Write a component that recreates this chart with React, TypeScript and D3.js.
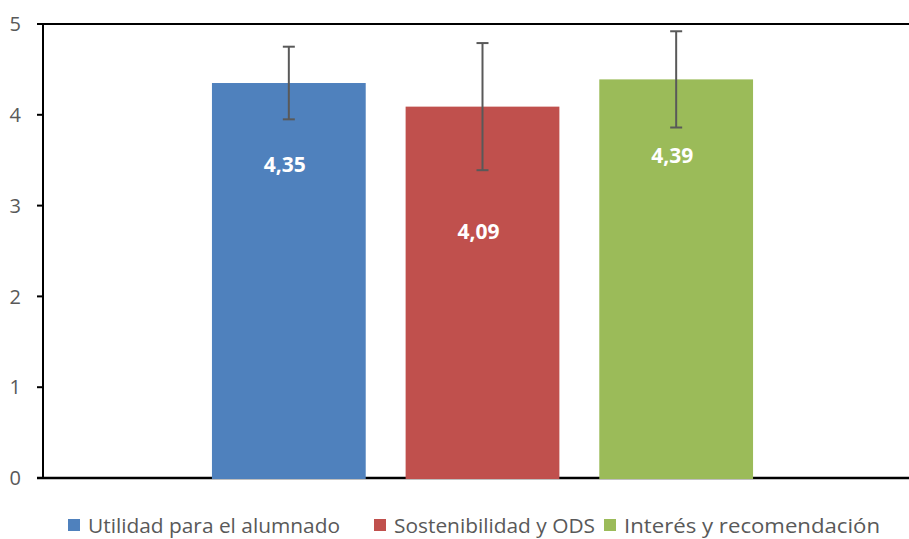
import React, { useEffect, useRef } from 'react';
import * as d3 from 'd3';

// series (one bar each)
const seriesNames = ['Utilidad para el alumnado', 'Sostenibilidad y ODS', 'Interés y recomendación'];
const seriesValues = [4.35, 4.09, 4.39];
const seriesErrors = [0.40, 0.70, 0.53];
const seriesColors = ['#4f81bd', '#c0504d', '#9bbb59'];
// where the value labels sit inside each bar (in axis units)
const labelAt = [3.45, 2.71, 3.55];
const yTicks = [0, 1, 2, 3, 4, 5];

const W = 909;
const H = 539;

const App: React.FC = () => {
  const svgRef = useRef<SVGSVGElement>(null);

  useEffect(() => {
    if (!svgRef.current) return;
    const svg = d3.select(svgRef.current);
    svg.selectAll('*').remove();

    const left = 43;
    const right = 909;
    const y = d3.scaleLinear().domain([0, 5]).range([478, 24]);
    const x = d3.scaleBand<string>()
      .domain(seriesNames)
      .range([192, 773])
      .paddingInner(0.206)
      .paddingOuter(0.103);

    const g = svg.append('g');

    // top border line
    g.append('line')
      .attr('x1', 37).attr('x2', right)
      .attr('y1', y(5)).attr('y2', y(5))
      .attr('stroke', '#000').attr('stroke-width', 2);

    // y axis
    g.append('line')
      .attr('x1', left).attr('x2', left)
      .attr('y1', y(5)).attr('y2', y(0))
      .attr('stroke', '#000').attr('stroke-width', 2);

    yTicks.forEach(t => {
      g.append('line')
        .attr('x1', 37).attr('x2', left)
        .attr('y1', y(t)).attr('y2', y(t))
        .attr('stroke', '#000').attr('stroke-width', 2);
      g.append('text')
        .attr('x', 21)
        .attr('y', y(t))
        .attr('dy', '0.36em')
        .attr('text-anchor', 'end')
        .attr('fill', '#595959')
        .attr('font-family', 'Open Sans, sans-serif')
        .attr('font-size', 20)
        .text(String(t));
    });

    // bottom axis line, bars overlap it
    g.append('line')
      .attr('x1', 37).attr('x2', right)
      .attr('y1', y(0)).attr('y2', y(0))
      .attr('stroke', '#000').attr('stroke-width', 2.5);

    // bars
    g.selectAll('rect.bar')
      .data(seriesNames)
      .enter()
      .append('rect')
      .attr('class', 'bar')
      .attr('x', d => x(d)!)
      .attr('width', x.bandwidth())
      .attr('y', (d, i) => y(seriesValues[i]))
      .attr('height', (d, i) => y(0) - y(seriesValues[i]) + 1)
      .attr('fill', (d, i) => seriesColors[i]);

    // error bars
    seriesNames.forEach((d, i) => {
      const cx = x(d)! + x.bandwidth() / 2;
      const hi = y(seriesValues[i] + seriesErrors[i]);
      const lo = y(seriesValues[i] - seriesErrors[i]);
      const eg = g.append('g').attr('stroke', '#595959').attr('stroke-width', 2);
      eg.append('line').attr('x1', cx).attr('x2', cx).attr('y1', hi).attr('y2', lo);
      eg.append('line').attr('x1', cx - 6).attr('x2', cx + 6).attr('y1', hi).attr('y2', hi);
      eg.append('line').attr('x1', cx - 6).attr('x2', cx + 6).attr('y1', lo).attr('y2', lo);
    });

    // value labels
    seriesNames.forEach((d, i) => {
      g.append('text')
        .attr('x', x(d)! + x.bandwidth() / 2 - 4)
        .attr('y', y(labelAt[i]))
        .attr('dy', '0.36em')
        .attr('text-anchor', 'middle')
        .attr('fill', '#fff')
        .attr('font-family', 'Open Sans, sans-serif')
        .attr('font-weight', 'bold')
        .attr('font-size', 21)
        .text(seriesValues[i].toFixed(2).replace('.', ','));
    });

    // legend
    const legendX = [68, 374, 604];
    const legendW = [252, 201, 256];
    seriesNames.forEach((d, i) => {
      g.append('rect')
        .attr('x', legendX[i]).attr('y', 519)
        .attr('width', 12).attr('height', 12)
        .attr('fill', seriesColors[i]);
      g.append('text')
        .attr('x', legendX[i] + 20)
        .attr('y', 526)
        .attr('dy', '0.36em')
        .attr('fill', '#595959')
        .attr('font-family', 'Open Sans, sans-serif')
        .attr('font-size', 20)
        .attr('textLength', legendW[i])
        .attr('lengthAdjust', 'spacingAndGlyphs')
        .text(d);
    });
  }, []);

  return (
    <div style={{ position: 'fixed', left: 0, top: 0, width: W, height: H, background: '#fff' }}>
      <svg ref={svgRef} width={W} height={H} />
    </div>
  );
};

export default App;
